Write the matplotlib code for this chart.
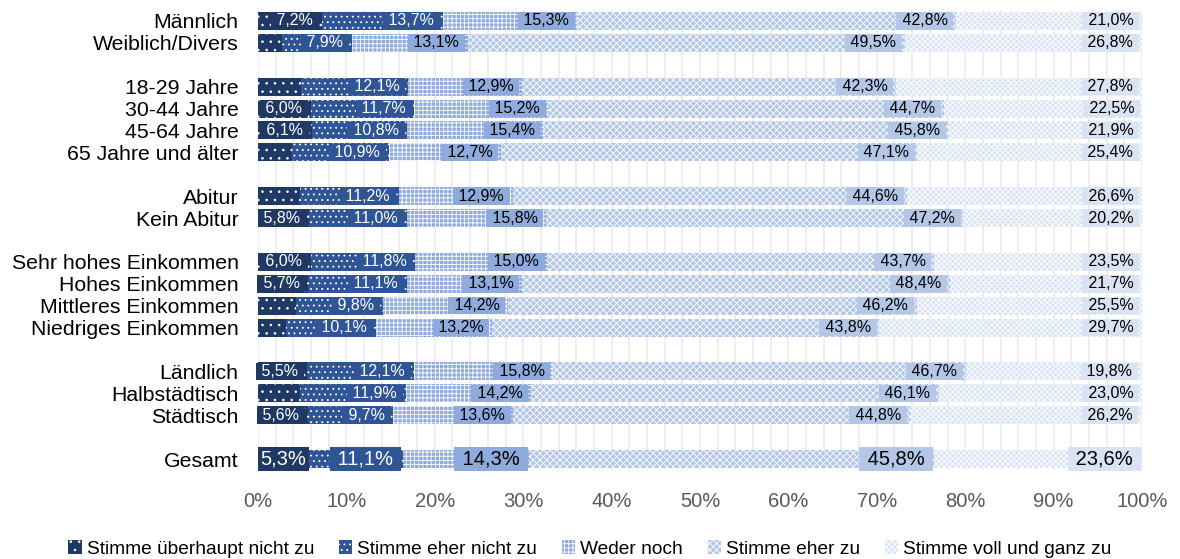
import numpy as np
import matplotlib
matplotlib.use('Agg')
import matplotlib.pyplot as plt

plt.rcParams['font.family'] = ['Liberation Sans', 'DejaVu Sans']
plt.rcParams['hatch.color'] = 'white'
plt.rcParams['hatch.linewidth'] = 0.6

# row labels, '' = empty spacer row
rows = ['Männlich', 'Weiblich/Divers', '',
        '18-29 Jahre', '30-44 Jahre', '45-64 Jahre', '65 Jahre und älter', '',
        'Abitur', 'Kein Abitur', '',
        'Sehr hohes Einkommen', 'Hohes Einkommen', 'Mittleres Einkommen', 'Niedriges Einkommen', '',
        'Ländlich', 'Halbstädtisch', 'Städtisch', '',
        'Gesamt']

series = ['Stimme überhaupt nicht zu', 'Stimme eher nicht zu', 'Weder noch',
          'Stimme eher zu', 'Stimme voll und ganz zu']

nicht_zu    = [7.2, 2.7, np.nan, 4.9, 6.0, 6.1, 3.9, np.nan, 4.7, 5.8, np.nan, 6.0, 5.7, 4.3, 3.2, np.nan, 5.5, 4.8, 5.6, np.nan, 5.3]
eher_nicht  = [13.7, 7.9, np.nan, 12.1, 11.7, 10.8, 10.9, np.nan, 11.2, 11.0, np.nan, 11.8, 11.1, 9.8, 10.1, np.nan, 12.1, 11.9, 9.7, np.nan, 11.1]
weder_noch  = [15.3, 13.1, np.nan, 12.9, 15.2, 15.4, 12.7, np.nan, 12.9, 15.8, np.nan, 15.0, 13.1, 14.2, 13.2, np.nan, 15.8, 14.2, 13.6, np.nan, 14.3]
eher_zu     = [42.8, 49.5, np.nan, 42.3, 44.7, 45.8, 47.1, np.nan, 44.6, 47.2, np.nan, 43.7, 48.4, 46.2, 43.8, np.nan, 46.7, 46.1, 44.8, np.nan, 45.8]
voll_zu     = [21.0, 26.8, np.nan, 27.8, 22.5, 21.9, 25.4, np.nan, 26.6, 20.2, np.nan, 23.5, 21.7, 25.5, 29.7, np.nan, 19.8, 23.0, 26.2, np.nan, 23.6]

colors = ['#203864', '#2F5597', '#8FAADC', '#B4C7E7', '#DAE3F3']
hatches = ['..', '...', '++++', 'xxxxx', 'xxxxxx']
txtcol = ['white', 'white', 'black', 'black', 'black']

data = np.array([nicht_zu, eher_nicht, weder_noch, eher_zu, voll_zu])
y = np.arange(len(rows))

fig = plt.figure(figsize=(11.8, 5.59), dpi=100)
ax = fig.add_axes([258/1180, 89/559, 884/1180, 460/559])

left = np.zeros(len(rows))
for i in range(5):
    vals = np.nan_to_num(data[i])
    ax.barh(y, vals, left=left, height=0.82, color=colors[i], hatch=hatches[i],
            linewidth=0, label=series[i], zorder=2)
    for j in range(len(rows)):
        v = data[i, j]
        if np.isnan(v) or v < 5:
            continue
        lab = f'{v:.1f}'.replace('.', ',') + '%'
        if rows[j] == 'Gesamt':
            fs, pad = 14.5, 0.12
            off = 1 if v < 8 else -3
        else:
            fs, pad, off = 11.5, 0.08, -3
        if v >= 8 or rows[j] != 'Gesamt':
            lab = ' ' + lab + ' '
        # labels sit at the inside end of each segment
        ax.annotate(lab, xy=(left[j] + v, y[j]), xytext=(off, 0), textcoords='offset points',
                    ha='right', va='center', fontsize=fs, color=txtcol[i], zorder=3,
                    annotation_clip=False,
                    bbox=dict(boxstyle=f'square,pad={pad}', fc=colors[i], ec='none'))
    left += vals

ax.set_xlim(0, 100)
ax.set_ylim(len(rows) - 0.5, -0.5)
ax.set_yticks(y)
ax.set_yticklabels(rows, fontsize=15.3)
ax.set_xticks(np.arange(0, 101, 10))
ax.set_xticklabels([f'{t}%' for t in range(0, 101, 10)], fontsize=14.5, color='#595959')
ax.set_xticks(np.arange(0, 101, 2), minor=True)
ax.grid(True, axis='x', which='both', color='#EBEBEB', linewidth=1.2, zorder=0)
ax.set_axisbelow(True)
ax.tick_params(axis='both', which='both', length=0)
ax.tick_params(axis='x', pad=16)
ax.tick_params(axis='y', pad=14)
for s in ax.spines.values():
    s.set_visible(False)

fig.legend(loc='center', bbox_to_anchor=(0.5, 10/559), ncol=5, frameon=False,
           fontsize=13.8, handlelength=0.7, handleheight=0.7, handletextpad=0.25,
           columnspacing=1.3, borderaxespad=0)

fig.savefig('out.png', dpi=100)
